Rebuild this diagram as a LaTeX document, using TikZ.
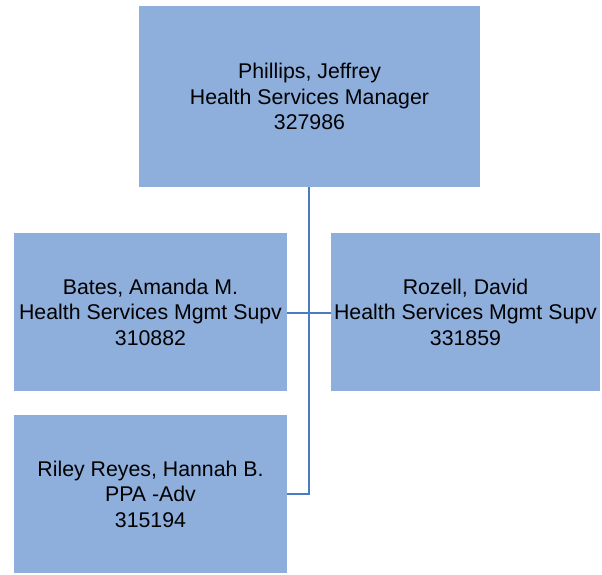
\documentclass[tikz,border=0pt]{standalone}
\usepackage{fontspec}
\setmainfont{Liberation Sans}
\definecolor{boxfill}{HTML}{8EAEDC}
\definecolor{linecol}{HTML}{4A7CC4}
\begin{document}
\begin{tikzpicture}[x=1pt,y=-1pt,
  orgbox/.style={fill=boxfill,draw=none,align=center,inner sep=0pt,
    font=\fontsize{21.3}{25.5}\selectfont},
  conn/.style={draw=linecol,line width=2pt}]
\useasboundingbox (0,0) rectangle (602,575);
\node[orgbox,minimum width=341pt,minimum height=181pt] (top) at (309.5,96.5) {Phillips, Jeffrey\\Health Services Manager\\327986};
\node[orgbox,minimum width=273pt,minimum height=158pt] (bates) at (150.5,312) {Bates, Amanda M.\\Health Services Mgmt Supv\\310882};
\node[orgbox,minimum width=269pt,minimum height=158pt] (rozell) at (465.5,312) {Rozell, David\\Health Services Mgmt Supv\\331859};
\node[orgbox,minimum width=273pt,minimum height=158pt] (riley) at (150.5,494) {Riley Reyes, Hannah B.\\PPA -Adv\\315194};
\coordinate (j1) at (309.3,493.7);
\draw[conn] (top.south -| j1) -- (j1) -- (riley.east |- j1);
\draw[conn] (bates.east |- 0,312.7) -- (rozell.west |- 0,312.7);
\end{tikzpicture}
\end{document}
